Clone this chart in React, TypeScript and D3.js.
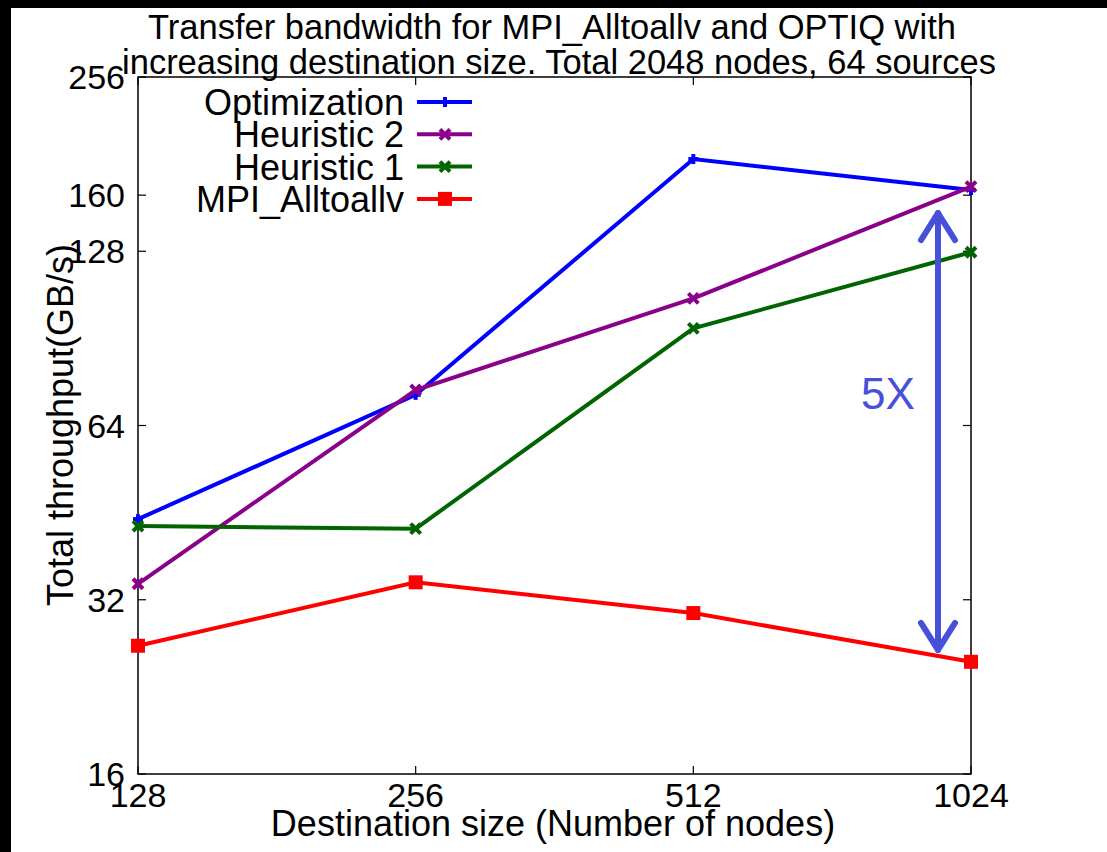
import React from "react";
import * as d3 from "d3";

const destSizes = [128, 256, 512, 1024];
const optimization = [44.1, 72.3, 184.7, 163.3];
const heuristic2 = [34.1, 73.7, 106.1, 165.5];
const heuristic1 = [42.9, 42.45, 94.2, 127.5];
const mpiAlltoallv = [26.65, 34.3, 30.35, 25.0];
const yTicks = [16, 32, 64, 128, 160, 256];
const xTicks = [128, 256, 512, 1024];

const series = [
  { name: "Optimization", values: optimization, color: "#0000ff", marker: "plus" },
  { name: "Heuristic 2", values: heuristic2, color: "#8b008b", marker: "cross" },
  { name: "Heuristic 1", values: heuristic1, color: "#006400", marker: "cross" },
  { name: "MPI_Alltoallv", values: mpiAlltoallv, color: "#ff0000", marker: "square" },
];

const W = 1107;
const H = 852;
const L = 138, R = 971, T = 77, B = 774;
const FONT = "'Liberation Sans', Arial, Helvetica, sans-serif";
const ARROW = "#4650d8";

function Marker({ type, x, y, color }: { type: string; x: number; y: number; color: string }) {
  if (type === "square") {
    return <rect x={x - 7} y={y - 7} width={14} height={14} fill={color} />;
  }
  if (type === "plus") {
    return (
      <g stroke={color} strokeWidth={4}>
        <line x1={x - 5} y1={y} x2={x + 5} y2={y} />
        <line x1={x} y1={y - 5} x2={x} y2={y + 5} />
      </g>
    );
  }
  return (
    <g stroke={color} strokeWidth={4}>
      <line x1={x - 5} y1={y - 5} x2={x + 5} y2={y + 5} />
      <line x1={x - 5} y1={y + 5} x2={x + 5} y2={y - 5} />
    </g>
  );
}

export default function App() {
  const x = d3.scaleLog().base(2).domain([128, 1024]).range([L, R]);
  const y = d3.scaleLog().base(2).domain([16, 256]).range([B, T]);
  const line = d3
    .line<number>()
    .x((_, i) => x(destSizes[i]))
    .y((d) => y(d));

  const arrowX = x(943);
  const arrowTop = y(150.8);
  const arrowBot = y(25.9);

  return (
    <svg
      width={W}
      height={H}
      style={{ position: "absolute", left: 0, top: 0, background: "#fff" }}
      fontFamily={FONT}
    >
      <rect x={0} y={0} width={W} height={H} fill="#fff" />
      <rect x={0} y={0} width={W} height={8} fill="#000" />
      <rect x={0} y={0} width={11} height={H} fill="#000" />

      {/* title */}
      <text x={552} y={39} textAnchor="middle" fontSize={34.5} fill="#000">
        Transfer bandwidth for MPI_Alltoallv and OPTIQ with
      </text>
      <text x={559} y={74} textAnchor="middle" fontSize={34.5} fill="#000">
        increasing destination size. Total 2048 nodes, 64 sources
      </text>

      {/* frame */}
      <rect x={L} y={T} width={R - L} height={B - T} fill="none" stroke="#000" strokeWidth={1.5} />

      {/* y ticks */}
      {yTicks.map((t) => (
        <g key={"y" + t}>
          <line x1={L} x2={L + 8} y1={y(t)} y2={y(t)} stroke="#000" strokeWidth={1.2} />
          <line x1={R} x2={R - 8} y1={y(t)} y2={y(t)} stroke="#000" strokeWidth={1.2} />
          <text x={125} y={y(t)} dy="0.36em" textAnchor="end" fontSize={34}>
            {t}
          </text>
        </g>
      ))}
      {/* x ticks */}
      {xTicks.map((t) => (
        <g key={"x" + t}>
          <line x1={x(t)} x2={x(t)} y1={B} y2={B - 8} stroke="#000" strokeWidth={1.2} />
          <line x1={x(t)} x2={x(t)} y1={T} y2={T + 8} stroke="#000" strokeWidth={1.2} />
          <text x={x(t)} y={807} textAnchor="middle" fontSize={34}>
            {t}
          </text>
        </g>
      ))}

      {/* axis labels */}
      <text x={553} y={836} textAnchor="middle" fontSize={36}>
        Destination size (Number of nodes)
      </text>
      <text
        transform={`translate(73, 425) rotate(-90)`}
        textAnchor="middle"
        fontSize={36}
      >
        Total throughput(GB/s)
      </text>

      {/* series */}
      {series.map((s) => (
        <g key={s.name}>
          <path d={line(s.values) || ""} fill="none" stroke={s.color} strokeWidth={4} strokeLinejoin="miter" />
          {s.values.map((v, i) => (
            <Marker key={i} type={s.marker} x={x(destSizes[i])} y={y(v)} color={s.color} />
          ))}
        </g>
      ))}

      {/* legend */}
      {series.map((s, i) => {
        const ly = 102 + i * 32.3;
        return (
          <g key={"lg" + s.name}>
            <text x={404} y={ly} dy="0.36em" textAnchor="end" fontSize={36}>
              {s.name}
            </text>
            <line x1={417} x2={472} y1={ly} y2={ly} stroke={s.color} strokeWidth={4} />
            <Marker type={s.marker} x={445} y={ly} color={s.color} />
          </g>
        );
      })}

      {/* annotation arrow */}
      <g stroke={ARROW} strokeWidth={6} fill="none" strokeLinecap="round" strokeLinejoin="round">
        <line x1={arrowX} x2={arrowX} y1={arrowTop + 3} y2={arrowBot - 3} />
        <polyline points={`${arrowX - 17},${arrowTop + 30} ${arrowX},${arrowTop + 3} ${arrowX + 17},${arrowTop + 30}`} />
        <polyline points={`${arrowX - 17},${arrowBot - 30} ${arrowX},${arrowBot - 3} ${arrowX + 17},${arrowBot - 30}`} />
      </g>
      <text x={888} y={409} textAnchor="middle" fontSize={44} fill={ARROW}>
        5X
      </text>
    </svg>
  );
}
